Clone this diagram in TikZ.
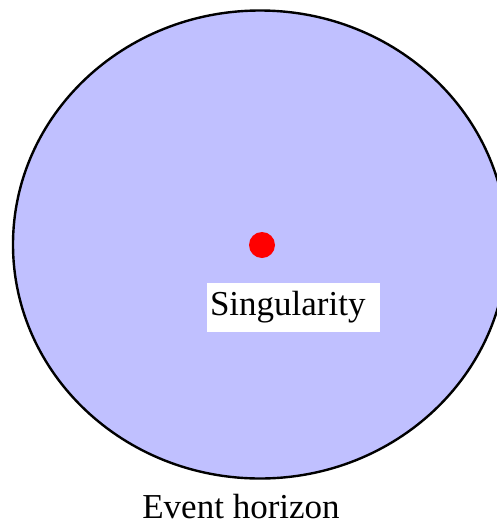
\documentclass[tikz,border=0pt]{standalone}
\usepackage{fontspec}
\setmainfont{Liberation Serif}
\usepackage{xcolor}
\usetikzlibrary{shapes.geometric}
\definecolor{holeblue}{HTML}{C0C0FF}
\definecolor{singred}{HTML}{FF0000}

\begin{document}
\begin{tikzpicture}[x=1pt,y=-1pt,
  hole/.style={ellipse,draw=black,fill=holeblue,line width=2.4pt,inner sep=0pt,minimum width=494pt,minimum height=468pt},
  dot/.style={circle,fill=singred,inner sep=0pt,minimum size=26pt},
  lbl/.style={font=\fontsize{35}{42}\selectfont}
]
\useasboundingbox (0,0) rectangle (497,523);
\node[hole] (horizon) at (260,244.5) {};
\node[dot] (sing) at (262,245) {};
\node[lbl,fill=white,inner sep=0pt,minimum width=173pt,minimum height=49pt,text width=167pt,align=left] (singlabel) at (293.5,307.5) {Singularity};
\node[lbl,anchor=base,inner sep=0pt] (horizonlabel) at (241,518) {Event horizon};
\end{tikzpicture}
\end{document}
